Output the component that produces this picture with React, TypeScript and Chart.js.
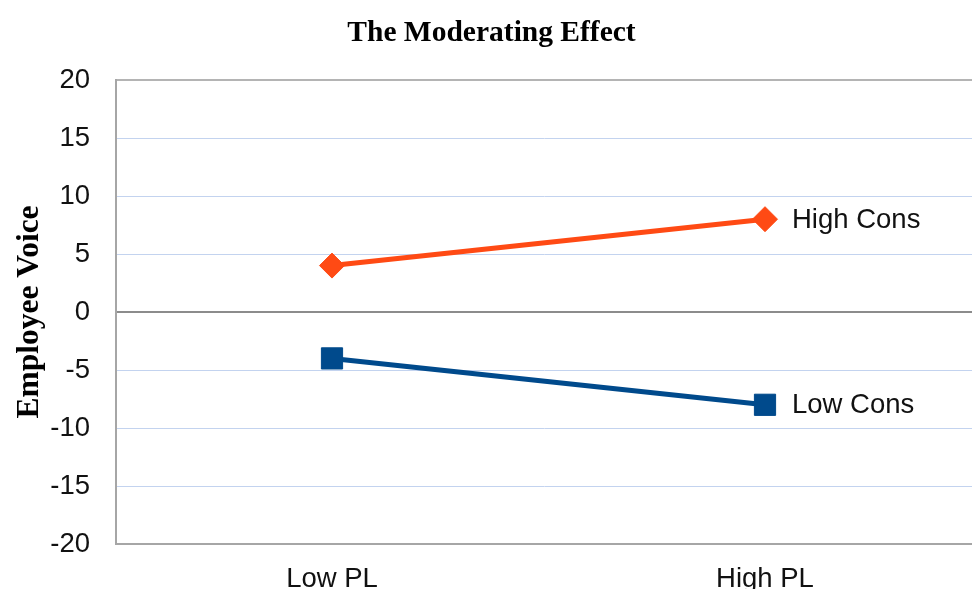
import React, { useEffect, useRef } from "react";
import { Chart, registerables } from "chart.js";

Chart.register(...registerables);

const categories = ["Low PL", "High PL"];
const highCons = [4, 8];
const lowCons = [-4, -8];
const seriesNames = ["High Cons", "Low Cons"];
const yTicks = { min: -20, max: 20, step: 5 };

const toPoints = (vals: number[]) => vals.map((y, i) => ({ x: i, y }));

const endLabels = {
  id: "endLabels",
  afterDatasetsDraw(chart: any) {
    const ctx = chart.ctx;
    ctx.save();
    ctx.font = "27.5px 'Liberation Sans', Arial, sans-serif";
    ctx.fillStyle = "#111";
    ctx.textAlign = "left";
    ctx.textBaseline = "middle";
    chart.data.datasets.forEach((ds: any, i: number) => {
      const meta = chart.getDatasetMeta(i);
      const pt = meta.data[meta.data.length - 1];
      if (pt) ctx.fillText(ds.label, pt.x + 27, pt.y + 1);
    });
    ctx.restore();
  },
};

export default function App() {
  const ref = useRef<HTMLCanvasElement>(null);
  useEffect(() => {
    if (!ref.current) return;
    const chart = new Chart(ref.current, {
      type: "line",
      data: {
        datasets: [
          {
            label: seriesNames[0],
            data: toPoints(highCons),
            borderColor: "#FF4A14",
            backgroundColor: "#FF4A14",
            borderWidth: 5,
            pointStyle: "rectRot",
            pointRadius: 12.5,
            pointBorderWidth: 1,
            pointBorderColor: "#FF4A14",
            pointBackgroundColor: "#FF4A14",
            tension: 0,
          },
          {
            label: seriesNames[1],
            data: toPoints(lowCons),
            borderColor: "#004A8C",
            backgroundColor: "#004A8C",
            borderWidth: 5,
            pointStyle: "rect",
            pointRadius: 15,
            pointBorderWidth: 1,
            pointBorderColor: "#004A8C",
            pointBackgroundColor: "#004A8C",
            tension: 0,
          },
        ],
      },
      options: {
        responsive: false,
        animation: false,
        layout: { autoPadding: false, padding: { left: 11, right: 0, top: 0, bottom: 0 } },
        plugins: {
          legend: { display: false },
          tooltip: { enabled: false },
          title: {
            display: true,
            text: "The Moderating Effect",
            color: "#000",
            font: { family: "'Liberation Serif', 'Times New Roman', serif", size: 29.5, weight: "bold" },
            padding: { top: 16, bottom: 28.6 },
          },
        },
        scales: {
          x: {
            type: "linear",
            min: -216 / 433,
            max: 1 + 207 / 433,
            afterBuildTicks: (s: any) => {
              s.ticks = categories.map((_, i) => ({ value: i }));
            },
            grid: { display: false, drawTicks: false },
            border: { display: true, color: "#A6A6A6", width: 2 },
            ticks: {
              color: "#111",
              padding: 19,
              autoSkip: false,
              maxRotation: 0,
              callback: (v: any) => categories[v] ?? "",
              font: { family: "'Liberation Sans', Arial, sans-serif", size: 27.5 },
            },
            afterFit: (s: any) => {
              s.height = 45;
            },
          },
          y: {
            min: yTicks.min,
            max: yTicks.max,
            ticks: {
              stepSize: yTicks.step,
              color: "#111",
              padding: 26,
              font: { family: "'Liberation Sans', Arial, sans-serif", size: 27.5 },
            },
            grid: {
              drawTicks: false,
              lineWidth: (c: any) => (c.tick && (c.tick.value === 0 || c.tick.value === 20 || c.tick.value === -20) ? 2 : 1),
              color: (c: any) => {
                const v = c.tick ? c.tick.value : null;
                if (v === 0) return "#8C8C8C";
                if (v === 20 || v === -20) return "#B4B4B4";
                return "#C3D3EF";
              },
            },
            border: { display: true, color: "#A6A6A6", width: 2 },
            title: {
              display: true,
              text: "Employee Voice",
              color: "#000",
              font: { family: "'Liberation Serif', 'Times New Roman', serif", size: 31.5, weight: "bold" },
              padding: { top: 0, bottom: 0 },
            },
            afterFit: (s: any) => {
              s.width = 105;
            },
          },
        },
      },
      plugins: [endLabels],
    });
    return () => chart.destroy();
  }, []);
  return (
    <div style={{ position: "absolute", left: 0, top: 0, width: 972, height: 589, overflow: "hidden", background: "#fff" }}>
      <canvas ref={ref} width={972} height={589} style={{ display: "block" }} />
    </div>
  );
}
